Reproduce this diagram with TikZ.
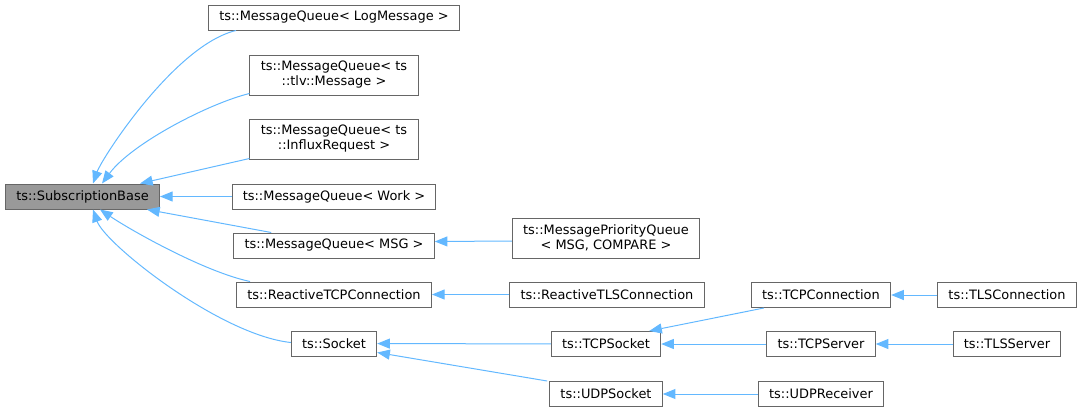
\documentclass[tikz,border=0pt]{standalone}
\usepackage{fontspec}
\setmainfont{DejaVu Sans}
\usepackage{tikz}
\usetikzlibrary{arrows.meta,calc}
\definecolor{DoxEdgeColor}{RGB}{99,184,255}
\definecolor{DoxBoxColor}{RGB}{102,102,102}
\definecolor{DoxBaseColor}{RGB}{153,153,153}

\begin{document}
\begin{tikzpicture}[x=0.75pt,y=-0.75pt,
  cls/.style={rectangle,draw=DoxBoxColor,fill=white,line width=0.75pt,
    font=\fontsize{9.7}{11.25}\selectfont,inner xsep=8.1pt,inner ysep=0pt,
    minimum height=18.75pt,align=center},
  cls2/.style={cls,minimum height=30pt},
  base/.style={cls,fill=DoxBaseColor},
  inh/.style={draw=DoxEdgeColor,line width=0.75pt,
    -{Triangle[length=9.5pt,width=7.5pt]}}]
\useasboundingbox (0,0) rectangle (1083,412);
% classes
\node[base](sb) at(82.5,196.5) {ts::SubscriptionBase};
\node[cls](lmq) at(334,17.5) {ts::MessageQueue< LogMessage >};
\node[cls2](tlv) at(334,75) {ts::MessageQueue< ts\\::tlv::Message >};
\node[cls2](infl) at(334,139) {ts::MessageQueue< ts\\::InfluxRequest >};
\node[cls](work) at(334,196.5) {ts::MessageQueue< Work >};
\node[cls](msg) at(334,245.5) {ts::MessageQueue< MSG >};
\node[cls](rtcp) at(334,294.5) {ts::ReactiveTCPConnection};
\node[cls](sock) at(334,343.5) {ts::Socket};
\node[cls2](mpq) at(606,238) {ts::MessagePriorityQueue\\< MSG, COMPARE >};
\node[cls](rtls) at(607,294.5) {ts::ReactiveTLSConnection};
\node[cls](tcps) at(606,344) {ts::TCPSocket};
\node[cls](udps) at(606,394) {ts::UDPSocket};
\node[cls](tcpc) at(821,295) {ts::TCPConnection};
\node[cls](tcpsrv) at(821,344) {ts::TCPServer};
\node[cls](udpr) at(821,394) {ts::UDPReceiver};
\node[cls](tlsc) at(1007,295) {ts::TLSConnection};
\node[cls](tlss) at(1007,344) {ts::TLSServer};
% inheritance
\draw[inh] ($(lmq.south west)+(28,0)$) .. controls (175,45) and (102,158) .. ($(sb.north west)+(88,0)$);
\draw[inh] ($(tlv.south west)+(0,-2)$) .. controls (210,103) and (132,143) .. ($(sb.north west)+(97,0)$);
\draw[inh] ($(infl.south west)+(0,-1)$) -- ($(sb.north west)+(135,0)$);
\draw[inh] (work) -- (sb);
\draw[inh] ($(msg.north west)+(38,0)$) -- ($(sb.south west)+(142,0)$);
\draw[inh] ($(rtcp.north west)+(14,0)$) .. controls (205,272) and (132,231) .. ($(sb.south west)+(95,0)$);
\draw[inh] ($(sock.west)+(0,-1)$) .. controls (220,335) and (105,244) .. ($(sb.south west)+(88,0)$);
\draw[inh] ($(mpq.west)+(0,3)$) -- ($(msg.east)+(0,-4)$);
\draw[inh] (rtls) -- (rtcp);
\draw[inh] (tcps) -- (sock);
\draw[inh] ($(udps.north west)+(-2,0)$) -- ($(sock.south east)+(0,-4)$);
\draw[inh] ($(tcpc.south west)+(13,0)$) -- ($(tcps.north east)+(-12,0)$);
\draw[inh] (tcpsrv) -- (tcps);
\draw[inh] (udpr) -- (udps);
\draw[inh] (tlsc) -- (tcpc);
\draw[inh] (tlss) -- (tcpsrv);
\end{tikzpicture}
\end{document}
